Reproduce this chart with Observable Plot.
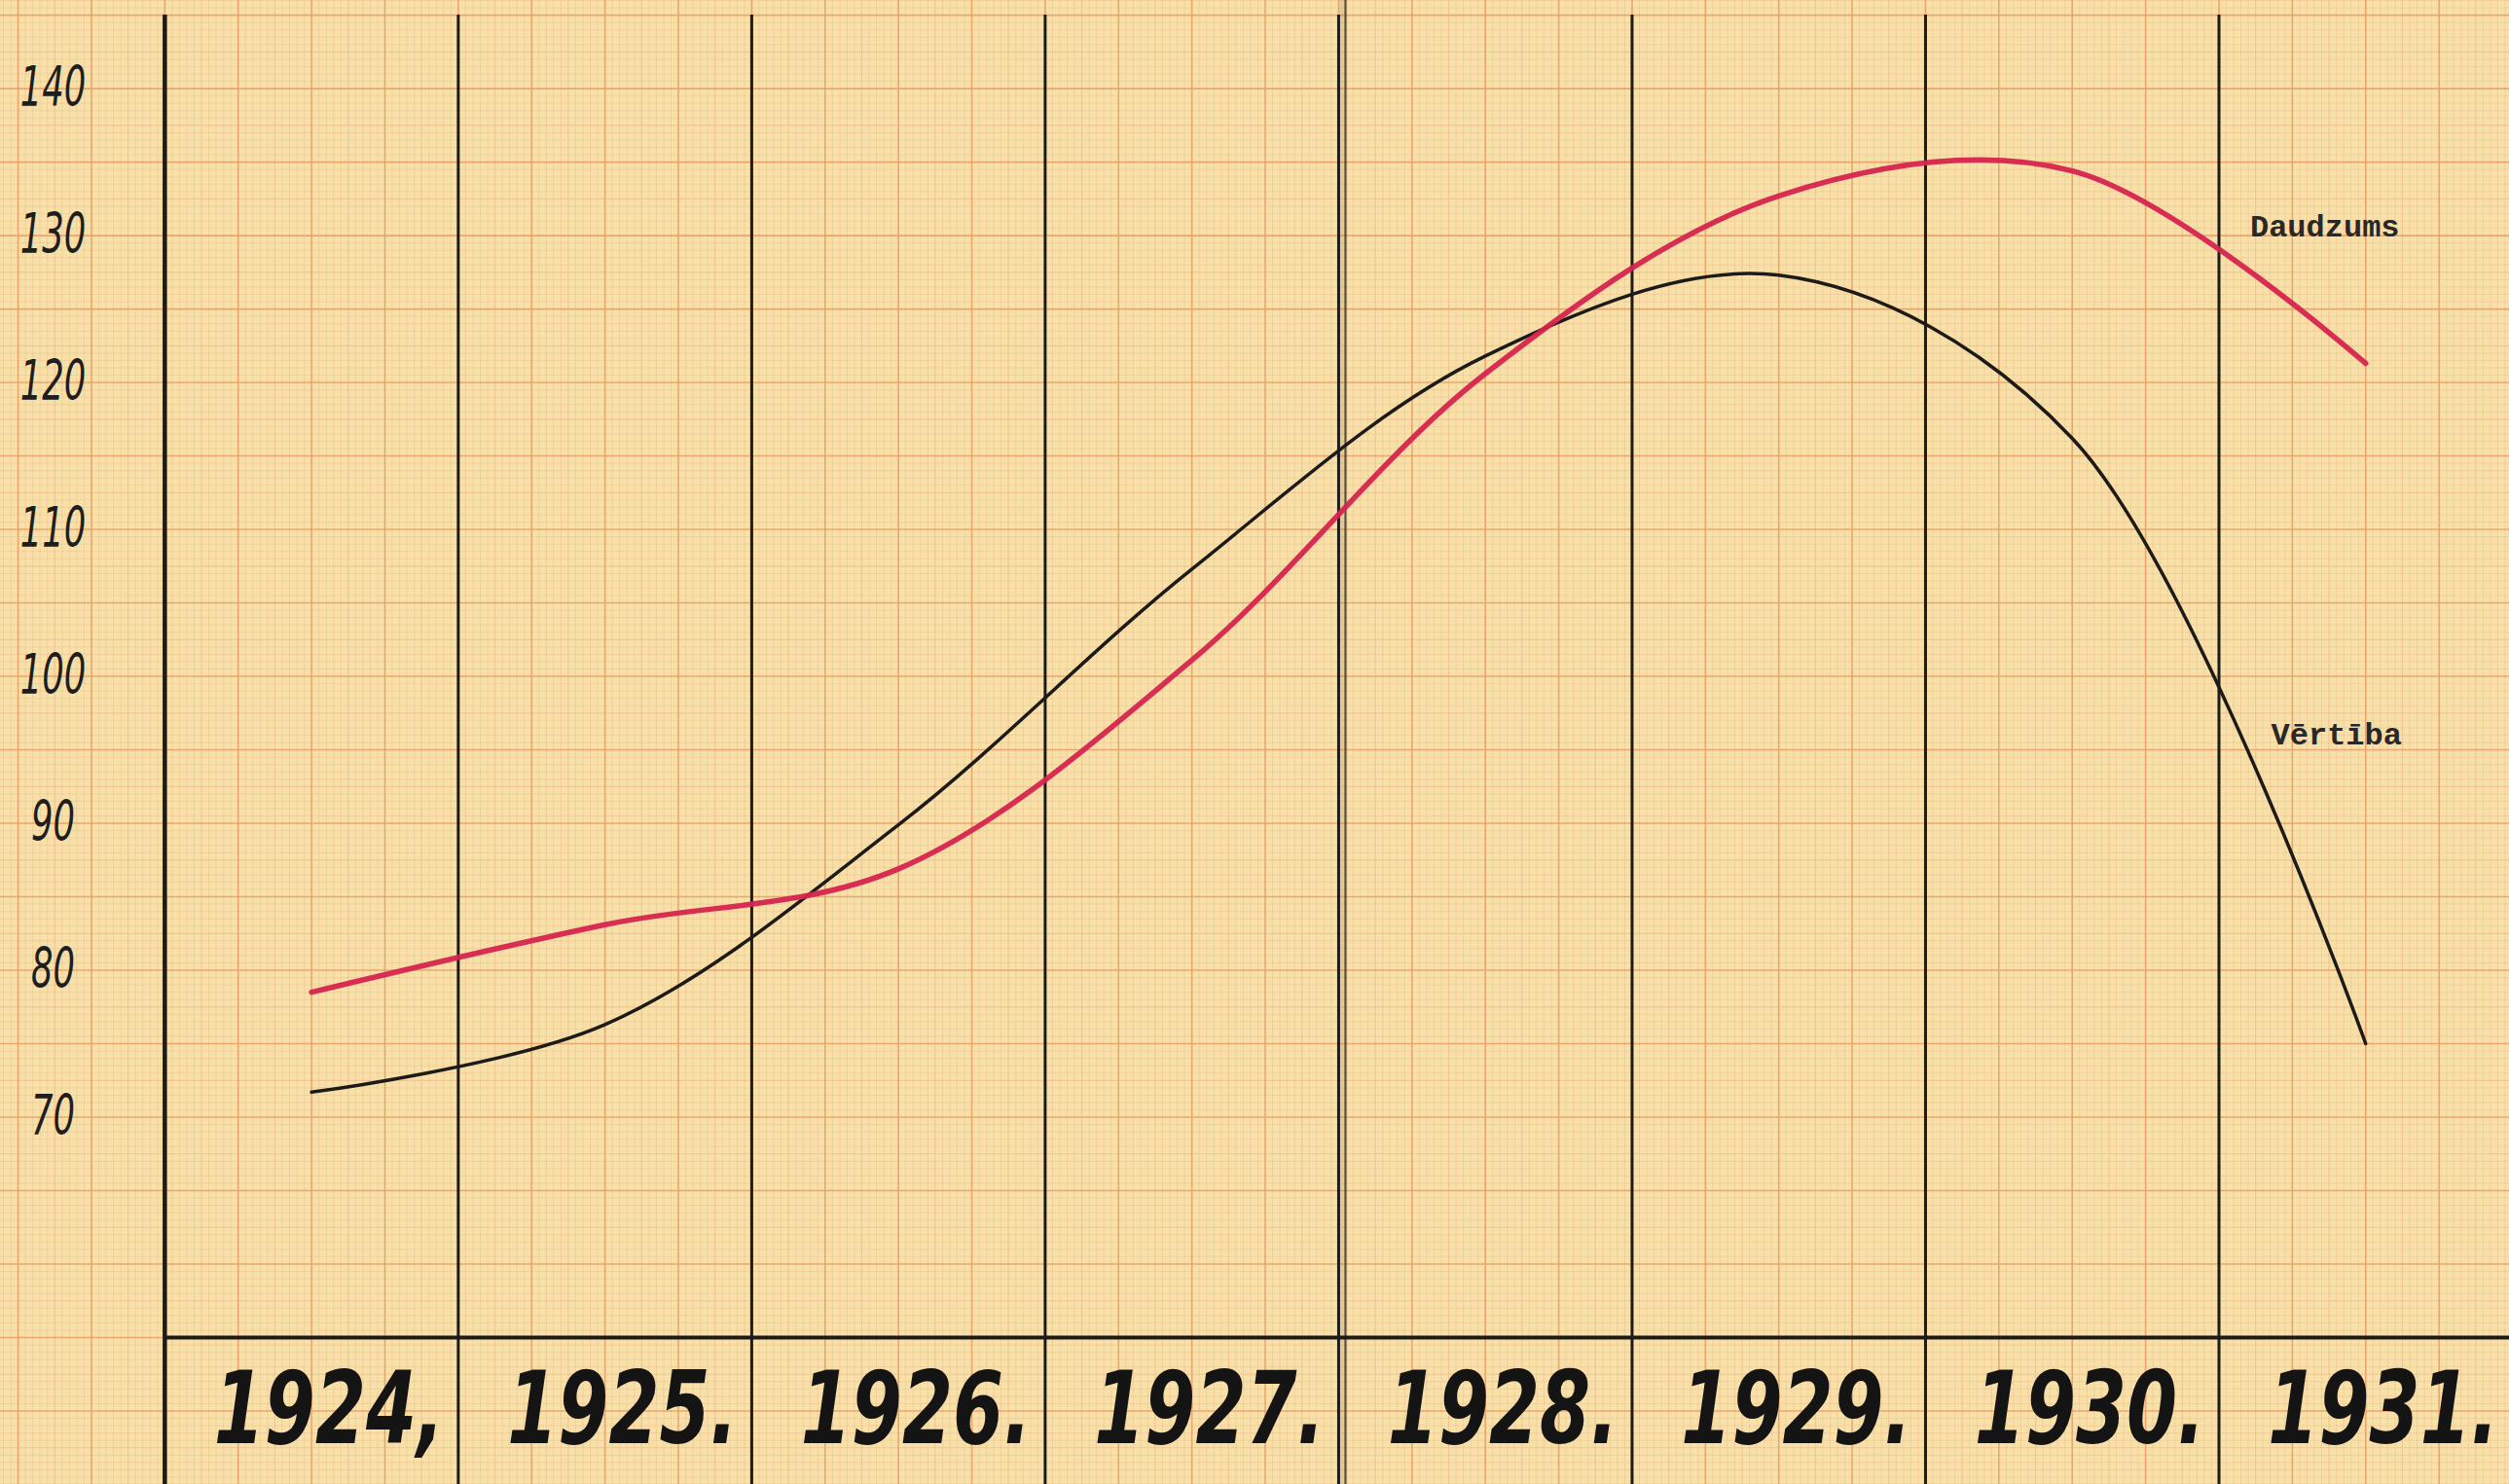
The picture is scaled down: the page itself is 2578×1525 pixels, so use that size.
<!DOCTYPE html>
<html>
<head>
<meta charset="utf-8">
<script src="https://cdn.jsdelivr.net/npm/d3@7"></script>
<script src="https://cdn.jsdelivr.net/npm/@observablehq/plot@0.6"></script>
<style>
  html, body { margin: 0; padding: 0; background: #f8e1a9; }
  #chart svg { display: block; }
</style>
</head>
<body>
<div id="chart"></div>
<script>
// ---- data ----
const years = [1924, 1925, 1926, 1927, 1928, 1929, 1930, 1931];
const yearLabels = ["1924,", "1925.", "1926.", "1927.", "1928.", "1929.", "1930.", "1931."];
const daudzums = [78.5, 83.1, 86.9, 101.1, 120.6, 132.7, 134.4, 121.3];   // red
const vertiba  = [71.7, 76.3, 89.9, 107.3, 121.8, 127.3, 116.2, 75.0];    // black
const yTicks = [70, 80, 90, 100, 110, 120, 130, 140];
const seriesNames = ["Daudzums", "Vērtība"];

const red = years.map((y, i) => ({year: y, value: daudzums[i]}));
const black = years.map((y, i) => ({year: y, value: vertiba[i]}));

// graph-paper grid (tick positions)
const vFine = d3.range(-3, 343).map(i => ({v: 1923 + i / 40, k: i}));
const hFine = d3.range(90, 293).map(i => ({v: i / 2, k: i}));
const vMinor = vFine.filter(d => d.k % 5 !== 0);
const vMid = vFine.filter(d => d.k % 10 === 5);
const vMajor = vFine.filter(d => d.k % 10 === 0);
const hMinor = hFine.filter(d => d.k % 5 !== 0);
const hMid = hFine.filter(d => d.k % 10 === 5);
const hMajor = hFine.filter(d => d.k % 10 === 0);

const paperFine = "#efbf8e";
const paperMajor = "#e9a067";
const ink = "#1d1b1a";

const dividers = years.map(y => y - 0.5);

const chart = Plot.plot({
  width: 2578,
  height: 1525,
  margin: 0,
  x: {domain: [1922.94, 1931.49], axis: null},
  y: {domain: [45, 146], axis: null},
  style: {background: "#f8e1a9", overflow: "visible"},
  marks: [
    // graph paper
    Plot.ruleX(vMinor, {x: "v", stroke: paperFine, strokeWidth: 1, strokeOpacity: 0.55}),
    Plot.ruleY(hMinor, {y: "v", stroke: paperFine, strokeWidth: 1, strokeOpacity: 0.55}),
    Plot.ruleX(vMid, {x: "v", stroke: paperFine, strokeWidth: 1.2, strokeOpacity: 0.8}),
    Plot.ruleY(hMid, {y: "v", stroke: paperFine, strokeWidth: 1.2, strokeOpacity: 0.8}),
    Plot.ruleX(vMajor, {x: "v", stroke: paperMajor, strokeWidth: 1.6, strokeOpacity: 0.9}),
    Plot.ruleY(hMajor, {y: "v", stroke: paperMajor, strokeWidth: 1.6, strokeOpacity: 0.9}),

    // centre fold shading
    Plot.ruleX([1927.5], {dx: 5, y1: 45, y2: 146, stroke: "#8a6a45", strokeWidth: 8, strokeOpacity: 0.2}),

    // black column dividers / axes
    Plot.ruleX(dividers, {y1: 45, y2: 145, stroke: ink, strokeWidth: 3}),
    Plot.ruleX([1923.5], {y1: 45, y2: 145, stroke: ink, strokeWidth: 4.5}),
    Plot.ruleX([1927.5], {dx: 7, y1: 45, y2: 146, stroke: ink, strokeWidth: 2, strokeOpacity: 0.7}),
    Plot.ruleY([55], {x1: 1923.5, x2: 1931.49, stroke: ink, strokeWidth: 4}),

    // curves
    Plot.line(black, {x: "year", y: "value", curve: "catmull-rom", stroke: ink, strokeWidth: 3.5}),
    Plot.line(red, {x: "year", y: "value", curve: "catmull-rom", stroke: "#d6244e", strokeWidth: 5.5, strokeOpacity: 0.95}),

    // y tick labels (handwritten style)
    Plot.text(yTicks, {
      y: d => d, text: d => String(d), frameAnchor: "left", dx: 54, textAnchor: "middle",
      fontSize: 57, fontStyle: "italic", fontWeight: 200,
      fontFamily: "'DejaVu Sans', sans-serif",
      fill: "#1e1e1e"
    }),

    // year labels
    Plot.text(years, {
      x: d => d, y: () => 50, text: (d, i) => yearLabels[i], dx: 18, textAnchor: "middle",
      fontSize: 104, fontStyle: "italic", fontWeight: 900,
      fontFamily: "'DejaVu Sans', sans-serif",
      fill: "#151414"
    }),

    // series labels (typewriter)
    Plot.text([red[red.length - 1]], {
      x: "year", y: "value", text: () => seriesNames[0], dx: -42, dy: -141,
      textAnchor: "middle", fontSize: 32, fontWeight: "bold",
      fontFamily: "'Liberation Mono', 'DejaVu Sans Mono', monospace", fill: "#2a2826"
    }),
    Plot.text([black[black.length - 1]], {
      x: "year", y: "value", text: () => seriesNames[1], dx: -30, dy: -318,
      textAnchor: "middle", fontSize: 32, fontWeight: "bold",
      fontFamily: "'Liberation Mono', 'DejaVu Sans Mono', monospace", fill: "#2a2826"
    })
  ]
});
document.getElementById("chart").append(chart);

// condense glyphs horizontally to match the narrow hand lettering
const yearSet = new Set(yearLabels);
const tickSet = new Set(yTicks.map(String));
chart.querySelectorAll("text").forEach(t => {
  const s = t.textContent.trim();
  let sx = null;
  if (yearSet.has(s)) sx = 0.72;
  else if (tickSet.has(s)) sx = 0.62;
  if (sx !== null) {
    const tr = t.getAttribute("transform") || "";
    t.setAttribute("transform", tr + ` scale(${sx},1)`);
  }
});
</script>
</body>
</html>
